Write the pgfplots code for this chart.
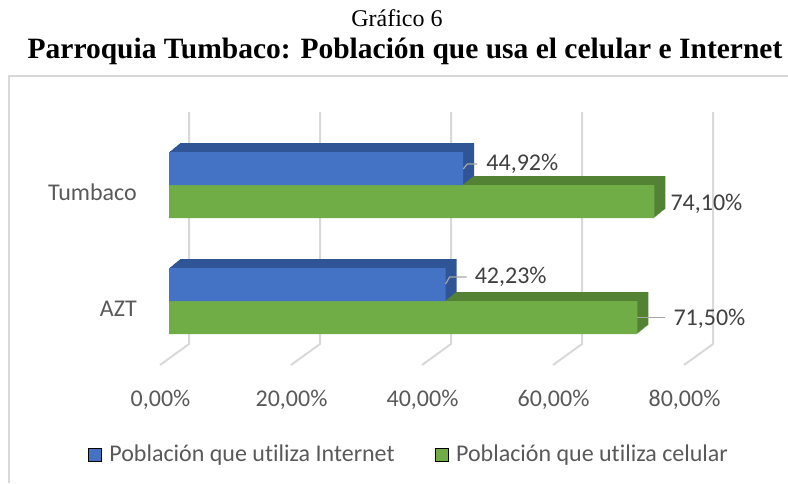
\documentclass[border=0pt]{standalone}
\usepackage{pgfplots}
\pgfplotsset{compat=1.18}
\usepackage{pgfplotstable}
\usepackage{fontspec}
\setmainfont{Carlito}[Ligatures=NoCommon]
\newfontfamily\timesfont{Liberation Serif}
\definecolor{bluefront}{RGB}{68,114,196}
\definecolor{bluedark}{RGB}{47,85,151}
\definecolor{greenfront}{RGB}{112,173,71}
\definecolor{greendark}{RGB}{84,130,53}
\definecolor{gridgray}{RGB}{217,217,217}
\definecolor{ticktext}{RGB}{89,89,89}
\definecolor{labeltext}{RGB}{64,64,64}
\definecolor{leadergray}{RGB}{166,166,166}

% y: 1 = Tumbaco, 0 = AZT ; dx, dy: label offsets (px) from bar end at category centre
\pgfplotstableread{
y v dx dy
1 44.92 23 21
0 42.23 29 24
}\internettab
\pgfplotstableread{
y v dx dy
1 74.10 16 -18.5
0 71.50 36 -17.5
}\celulartab

\begin{document}
\begin{tikzpicture}
\useasboundingbox (0pt,0pt) rectangle (788pt,-483pt);
\draw[gridgray, line width=1.5pt] (9pt,-483pt) -- (9pt,-76pt) -- (788pt,-76pt);
\node[font=\timesfont\fontsize{24}{28}\selectfont, anchor=base] at (397pt,-26pt) {Gráfico 6};
\node[font=\timesfont\bfseries\fontsize{29.5}{34}\selectfont, anchor=base] at (405pt,-58pt) {Parroquia Tumbaco: Población que usa el celular e Internet};
\begin{axis}[
  at={(169pt,-359pt)}, anchor=south west,
  scale only axis, width=524pt, height=232pt,
  xmin=0, xmax=80, ymin=-0.5, ymax=1.5,
  clip=false,
  axis line style={draw=none},
  major tick length=0pt,
  xtick={0,20,40,60,80},
  xticklabels={{0,00\%},{20,00\%},{40,00\%},{60,00\%},{80,00\%}},
  ytick={0,1},
  yticklabels={AZT,Tumbaco},
  x tick label style={anchor=center, xshift=-8.5pt, yshift=-40.5pt, inner sep=0pt},
  y tick label style={anchor=east, xshift=-32pt, yshift=-7.5pt, inner sep=0pt},
  tick label style={font=\fontsize{24}{28}\selectfont, text=ticktext},
  bar width=33pt,
  legend columns=2,
  legend image code/.code={\fill[#1] (0pt,-7pt) rectangle (13pt,6pt); \path (19pt,0pt);},
  legend style={at={(0.458,-0.41)}, anchor=center, draw=none, fill=none,
    font=\fontsize{24}{28}\selectfont, text=ticktext,
    /tikz/every even column/.append style={column sep=38pt}},
]
\addlegendimage{fill=bluefront}
\addlegendentry{Población que utiliza Internet}
\addlegendimage{fill=greenfront}
\addlegendentry{Población que utiliza celular}

% gridlines (back wall + floor diagonal)
\pgfplotsinvokeforeach{0,20,40,60,80}{
  \draw[gridgray, line width=2pt]
    ([xshift=20pt,yshift=15pt]axis cs:#1,1.5) --
    ([xshift=20pt,yshift=15pt]axis cs:#1,-0.5) --
    ([xshift=-9pt,yshift=-6pt]axis cs:#1,-0.5);
}

% green (celular): depth then front
\pgfplotsinvokeforeach{1,...,11}{
  \addplot[xbar, bar shift=-16.5pt, fill=greendark, draw=none, forget plot,
    xshift=#1pt, yshift=#1*0.818pt] table[x=v,y=y] {\celulartab};
}
\addplot[xbar, bar shift=-16.5pt, fill=greenfront, draw=none, forget plot,
  point meta=x,
  visualization depends on={\thisrow{dx}\as\dx},
  visualization depends on={\thisrow{dy}\as\dy},
  nodes near coords={\pgfmathprintnumber[use comma,fixed,fixed zerofill,precision=2,assume math mode=true]{\pgfplotspointmeta}\%},
  every node near coord/.append style={anchor=west, inner sep=0pt, xshift=\dx pt, yshift=\dy pt,
    font=\fontsize{24}{28}\selectfont, text=labeltext}
] table[x=v,y=y] {\celulartab};

% blue (internet): depth then front
\pgfplotsinvokeforeach{1,...,11}{
  \addplot[xbar, bar shift=16.5pt, fill=bluedark, draw=none, forget plot,
    xshift=#1pt, yshift=#1*0.818pt] table[x=v,y=y] {\internettab};
}
\addplot[xbar, bar shift=16.5pt, fill=bluefront, draw=none, forget plot,
  point meta=x,
  visualization depends on={\thisrow{dx}\as\dx},
  visualization depends on={\thisrow{dy}\as\dy},
  nodes near coords={\pgfmathprintnumber[use comma,fixed,fixed zerofill,precision=2,assume math mode=true]{\pgfplotspointmeta}\%},
  every node near coord/.append style={anchor=west, inner sep=0pt, xshift=\dx pt, yshift=\dy pt,
    font=\fontsize{24}{28}\selectfont, text=labeltext}
] table[x=v,y=y] {\internettab};

% leader lines
\draw[leadergray, line width=1.2pt] ([yshift=16pt]axis cs:44.92,1) -- ++(4pt,5pt) -- ++(10pt,0pt);
\draw[leadergray, line width=1.2pt] ([yshift=17pt]axis cs:42.23,0) -- ++(4pt,7pt) -- ++(17pt,0pt);
\draw[leadergray, line width=1.2pt] ([yshift=-16.5pt]axis cs:71.50,0) -- ++(28pt,0pt);
\end{axis}
\end{tikzpicture}
\end{document}
